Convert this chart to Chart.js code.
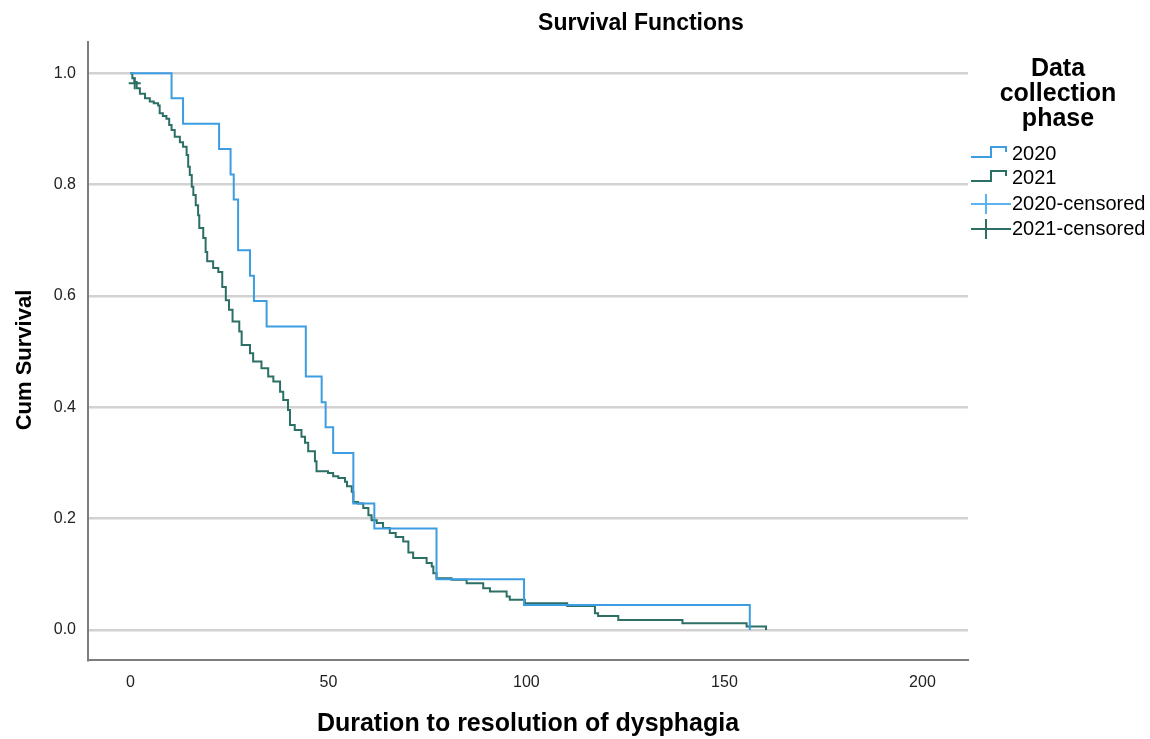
<!DOCTYPE html>
<html>
<head>
<meta charset="utf-8">
<title>Survival Functions</title>
<script src="https://cdn.jsdelivr.net/npm/chart.js@4/dist/chart.umd.min.js"></script>
<style>
  html, body { margin: 0; padding: 0; background: #fff; }
</style>
</head>
<body>
<canvas id="chart" width="1150" height="739"></canvas>
<script>
// Kaplan-Meier estimates (time in days, cum survival)
const times2020 = [0, 10.4, 13.3, 22.4, 25.3, 26.1, 27.2, 30.2, 31.2, 34.4, 44.3, 48.3, 49.3, 51.2, 56.3, 61.6, 77.3, 99.4, 156.4];
const surv2020  = [1.0, 0.955, 0.909, 0.864, 0.818, 0.773, 0.682, 0.636, 0.591, 0.545, 0.455, 0.409, 0.364, 0.318, 0.227, 0.182, 0.091, 0.045, 0.0];

const times2021 = [0, 0.5, 1.0, 1.6, 2.4, 3.7, 4.9, 5.9, 7.0, 7.4, 8.2, 9.1, 9.8, 10.4, 11.2, 12.5, 13.3,
  14.2, 14.6, 15.0, 15.5, 15.9, 16.5, 17.1, 17.4, 18.4, 19.0, 19.4, 20.9, 22.2, 23.2, 24.1, 24.9, 25.8,
  27.5, 28.1, 30.2, 31.0, 33.1, 34.8, 36.1, 37.8, 38.6, 39.8, 40.3, 41.5, 43.2, 44.1, 44.9, 46.6, 47.0,
  49.9, 51.2, 52.5, 54.2, 54.7, 55.9, 56.3, 57.5, 58.8, 60.1, 60.9, 62.2, 63.8, 65.5, 67.0, 68.9, 70.2,
  71.4, 74.8, 76.1, 76.5, 77.3, 81.1, 84.9, 89.1, 90.8, 95.0, 95.8, 99.6, 110.3, 117.3, 118.1, 123.2,
  139.4, 155.6, 160.5];
const surv2021  = [1.0, 0.991, 0.984, 0.973, 0.963, 0.955, 0.949, 0.946, 0.942, 0.928, 0.923, 0.918, 0.907, 0.898, 0.886, 0.876, 0.868,
  0.853, 0.832, 0.817, 0.796, 0.781, 0.763, 0.745, 0.722, 0.704, 0.679, 0.662, 0.650, 0.643, 0.616, 0.592, 0.575, 0.554,
  0.536, 0.512, 0.497, 0.482, 0.470, 0.455, 0.446, 0.428, 0.413, 0.395, 0.368, 0.359, 0.347, 0.336, 0.321, 0.303, 0.285,
  0.282, 0.276, 0.273, 0.266, 0.258, 0.248, 0.230, 0.227, 0.219, 0.206, 0.197, 0.192, 0.183, 0.174, 0.167, 0.159, 0.139,
  0.129, 0.120, 0.114, 0.102, 0.093, 0.090, 0.084, 0.075, 0.069, 0.060, 0.054, 0.048, 0.043, 0.030, 0.025, 0.018,
  0.012, 0.006, 0.0];

// censored cases
const censorTimes2020 = [];
const censorSurv2020  = [];
const censorTimes2021 = [1.1];
const censorSurv2021  = [0.982];

// axis ticks and text
const xTicks = [0, 50, 100, 150, 200];
const yTicks = [0.0, 0.2, 0.4, 0.6, 0.8, 1.0];
const chartTitle = 'Survival Functions';
const xTitle = 'Duration to resolution of dysphagia';
const yTitle = 'Cum Survival';
const legendTitle = ['Data', 'collection', 'phase'];
const legendLabels = ['2020', '2021', '2020-censored', '2021-censored'];

const blue = '#3d9de2';
const green = '#2c6f65';
const blueCens = '#5cb2ee';
const greenCens = '#2c6f65';
const FONT = '"Liberation Sans", Arial, sans-serif';

const toPoints = (xs, ys) => xs.map((x, i) => ({ x: x, y: ys[i] }));

// Title, y axis title and the SPSS style legend on the right
const spssText = {
  id: 'spssText',
  afterDraw(chart) {
    const ctx = chart.ctx;
    ctx.save();
    ctx.fillStyle = '#000';
    ctx.textAlign = 'center';
    ctx.textBaseline = 'alphabetic';
    ctx.font = 'bold 23px ' + FONT;
    ctx.fillText(chartTitle, 641, 30);

    // y axis title, rotated
    ctx.save();
    ctx.translate(25, 360);
    ctx.rotate(-Math.PI / 2);
    ctx.textBaseline = 'middle';
    ctx.font = 'bold 22px ' + FONT;
    ctx.fillText(yTitle, 0, 0);
    ctx.restore();

    ctx.font = 'bold 25px ' + FONT;
    legendTitle.forEach((line, i) => ctx.fillText(line, 1058, 76 + i * 25));

    const colors = [blue, green, blueCens, greenCens];
    const rowY = [154, 178, 204, 229];
    ctx.lineWidth = 2;
    legendLabels.forEach((label, i) => {
      const y = rowY[i];
      ctx.strokeStyle = colors[i];
      ctx.beginPath();
      if (i < 2) {
        // little step icon
        ctx.moveTo(971, y + 3);
        ctx.lineTo(991, y + 3);
        ctx.lineTo(991, y - 7);
        ctx.lineTo(1006, y - 7);
        ctx.lineTo(1006, y - 2);
      } else {
        // censored cross
        ctx.moveTo(971, y);
        ctx.lineTo(1011, y);
        ctx.moveTo(986, y - 10);
        ctx.lineTo(986, y + 10);
      }
      ctx.stroke();
      ctx.fillStyle = '#000';
      ctx.textAlign = 'left';
      ctx.textBaseline = 'middle';
      ctx.font = '20px ' + FONT;
      ctx.fillText(label, 1012, y);
    });
    ctx.restore();
  }
};

const ctx = document.getElementById('chart').getContext('2d');

new Chart(ctx, {
  type: 'line',
  data: {
    datasets: [
      {
        label: legendLabels[0],
        data: toPoints(times2020, surv2020),
        borderColor: blue,
        borderWidth: 2,
        stepped: true,
        pointRadius: 0,
        fill: false
      },
      {
        label: legendLabels[1],
        data: toPoints(times2021, surv2021),
        borderColor: green,
        borderWidth: 2,
        stepped: true,
        pointRadius: 0,
        fill: false
      },
      {
        label: legendLabels[2],
        type: 'scatter',
        data: toPoints(censorTimes2020, censorSurv2020),
        pointStyle: 'cross',
        pointRadius: 6,
        borderColor: blueCens,
        borderWidth: 2
      },
      {
        label: legendLabels[3],
        type: 'scatter',
        data: toPoints(censorTimes2021, censorSurv2021),
        pointStyle: 'cross',
        pointRadius: 6,
        borderColor: greenCens,
        borderWidth: 2
      }
    ]
  },
  options: {
    responsive: false,
    animation: false,
    layout: { padding: { top: 42, right: 182, left: 0, bottom: 0 } },
    plugins: {
      legend: { display: false },
      title: { display: false },
      tooltip: { enabled: false }
    },
    scales: {
      x: {
        type: 'linear',
        min: -10.7,
        max: 211.5,
        afterFit: (scale) => { scale.height = 79; },
        afterBuildTicks: (scale) => { scale.ticks = xTicks.map(v => ({ value: v })); },
        grid: { display: false, drawTicks: false },
        border: { display: true, color: '#7d7d7d', width: 2 },
        ticks: {
          padding: 13,
          color: '#222',
          font: { family: FONT, size: 16 },
          maxRotation: 0
        },
        title: {
          display: true,
          text: xTitle,
          color: '#000',
          font: { family: FONT, size: 25, weight: 'bold' },
          padding: { top: 0, bottom: 0 }
        }
      },
      y: {
        type: 'linear',
        min: -0.054,
        max: 1.056,
        afterFit: (scale) => { scale.width = 88; },
        afterBuildTicks: (scale) => { scale.ticks = yTicks.map(v => ({ value: v })); },
        grid: { color: '#d2d2d2', lineWidth: 2.5, drawTicks: false },
        border: { display: true, color: '#7d7d7d', width: 2 },
        ticks: {
          padding: 12,
          color: '#222',
          font: { family: FONT, size: 16 },
          callback: (v) => Number(v).toFixed(1)
        },
        title: { display: false }
      }
    }
  },
  plugins: [spssText]
});
</script>
</body>
</html>
